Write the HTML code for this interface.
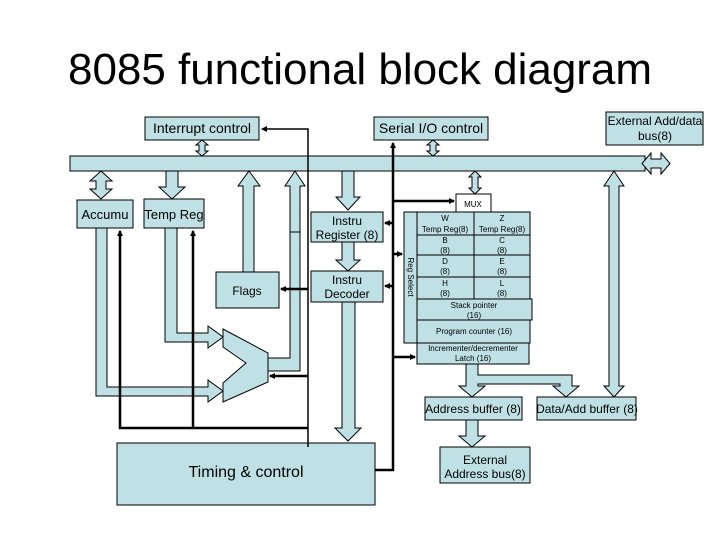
<!DOCTYPE html>
<html><head><meta charset="utf-8"><style>
html,body{margin:0;padding:0;background:#fff;}
svg{display:block;}
text{font-family:"Liberation Sans",sans-serif;fill:#000;}
</style></head><body>
<svg width="720" height="540" viewBox="0 0 720 540" xmlns="http://www.w3.org/2000/svg">
<defs>
<marker id="ah" markerWidth="6" markerHeight="6" refX="5" refY="3" orient="auto" markerUnits="userSpaceOnUse"><path d="M0,0 L6,3 L0,6 z" fill="#000"/></marker>
</defs>
<text x="360" y="84" font-size="44" text-anchor="middle" textLength="584">8085 functional block diagram</text>
<g fill="#bfe1e5" stroke="#000" stroke-width="1">
<rect x="70" y="156" width="575" height="15"/>
<polygon points="642,163.5 651,153 651,159 661,159 661,153 670,163.5 661,174 661,168 651,168 651,174"/>
<rect x="145" y="117" width="114" height="23"/>
<rect x="374" y="117" width="114" height="23"/>
<rect x="606" y="112" width="97" height="33"/>
<polygon points="202,140 208,145 205,145 205,151 208,151 202,156 196,151 199,151 199,145 196,145"/>
<polygon points="433,140 439,145 436,145 436,151 439,151 433,156 427,151 430,151 430,145 427,145"/>
<polygon points="475,171 481,177 478,177 478,188 481,188 475,194 469,188 472,188 472,177 469,177"/>
<rect x="77" y="200" width="56" height="28"/>
<rect x="144" y="199" width="60" height="29"/>
<polygon points="101,171 112,181 106,181 106,189 112,189 101,199 90,189 96,189 96,181 90,181"/>
<polygon points="166,171 178,171 178,187 185,187 172,199 159,187 166,187"/>
<polygon points="249,171 260,186 254,186 254,272 243,272 243,186 238,186"/>
<polygon points="268,358 290,358 290,186 285,186 295,171 305,186 300,186 300,371 268,371"/>
<line x1="290" y1="232" x2="300" y2="232"/>
<polygon points="96,228 107,228 107,387 208,387 208,380 223,391 208,402 208,396 96,396"/>
<polygon points="165,228 177,228 177,333 208,333 208,326 223,337 208,348 208,342 165,342"/>
<polygon points="223,329 268,353 268,382 223,402 223,383 246,363 223,347"/>
<rect x="216" y="272" width="63" height="36"/>
<polygon points="342,171 354,171 354,197 360,197 348,210 336,197 342,197"/>
<rect x="311" y="212" width="72" height="30"/>
<polygon points="342,242 354,242 354,260 360,260 348,271 336,260 342,260"/>
<rect x="311" y="271" width="72" height="31"/>
<polygon points="342,302 355,302 355,428 361,428 348,441 335,428 342,428"/>
<rect x="117" y="443" width="258" height="62"/>
<rect x="456" y="194" width="35" height="18" fill="#fff"/>
<rect x="404" y="212" width="13" height="131"/>
<rect x="417" y="212" width="113" height="87"/>
<line x1="474" y1="212" x2="474" y2="299"/>
<line x1="417" y1="235" x2="530" y2="235"/>
<line x1="417" y1="255" x2="530" y2="255"/>
<line x1="417" y1="277" x2="530" y2="277"/>
<rect x="417" y="299" width="115" height="21"/>
<rect x="417" y="320" width="113" height="23"/>
<rect x="417" y="343" width="112" height="21"/>
<polygon points="466,364 478,364 478,375 572,375 572,386 579,386 566,397 553,386 560,386 560,384 478,384 478,386 485,386 472,397 459,386 466,386"/>
<polygon points="614,171 624,186 619,186 619,386 624,386 614,397 604,386 609,386 609,186 604,186"/>
<rect x="425" y="397" width="97" height="23"/>
<rect x="537" y="397" width="99" height="23"/>
<polygon points="466,420 478,420 478,436 485,436 472,447 459,436 466,436"/>
<rect x="440" y="447" width="90" height="36"/>
</g>
<g fill="none" stroke="#000" stroke-width="2.5">
<polyline points="308,447 308,129 262,129" stroke-width="1.5" marker-end="url(#ah)"/>
<line x1="308" y1="289" x2="281" y2="289" marker-end="url(#ah)"/>
<line x1="308" y1="376" x2="270" y2="376" marker-end="url(#ah)"/>
<polyline points="308,428 120,428 120,231" marker-end="url(#ah)"/>
<line x1="193" y1="428" x2="193" y2="231" marker-end="url(#ah)"/>
<polyline points="375,470 393,470 393,143" marker-end="url(#ah)"/>
<line x1="393" y1="201" x2="454" y2="201" marker-end="url(#ah)"/>
<line x1="393" y1="223" x2="385" y2="223" marker-end="url(#ah)"/>
<line x1="393" y1="254" x2="402" y2="254" marker-end="url(#ah)"/>
<line x1="393" y1="286" x2="385" y2="286" marker-end="url(#ah)"/>
<line x1="393" y1="357" x2="415" y2="357" marker-end="url(#ah)"/>
</g>
<g font-size="14">
<text x="202" y="133" text-anchor="middle">Interrupt control</text>
<text x="431" y="133" text-anchor="middle">Serial I/O control</text>
<text x="105" y="219" text-anchor="middle" font-size="13">Accumu</text>
<text x="174" y="219" text-anchor="middle" font-size="13">Temp Reg</text>
</g>
<g font-size="12" text-anchor="middle">
<text x="655" y="125">External Add/data</text>
<text x="655" y="140">bus(8)</text>
<text x="347" y="225">Instru</text>
<text x="347" y="239">Register (8)</text>
<text x="347" y="284">Instru</text>
<text x="347" y="298">Decoder</text>
<text x="247" y="295">Flags</text>
<text x="473" y="413">Address buffer (8)</text>
<text x="587" y="413">Data/Add buffer (8)</text>
<text x="485" y="464">External</text>
<text x="485" y="478">Address bus(8)</text>
</g>
<text x="246" y="477" font-size="16" text-anchor="middle">Timing &amp; control</text>
<g font-size="8" text-anchor="middle">
<text x="473" y="207">MUX</text>
<text x="445" y="221">W</text><text x="502" y="221">Z</text>
<text x="445" y="232">Temp Reg(8)</text><text x="502" y="232">Temp Reg(8)</text>
<text x="445" y="243">B</text><text x="502" y="243">C</text>
<text x="445" y="253">(8)</text><text x="502" y="253">(8)</text>
<text x="445" y="264">D</text><text x="502" y="264">E</text>
<text x="445" y="274">(8)</text><text x="502" y="274">(8)</text>
<text x="445" y="286">H</text><text x="502" y="286">L</text>
<text x="445" y="296">(8)</text><text x="502" y="296">(8)</text>
<text x="474" y="308">Stack pointer</text>
<text x="474" y="318">(16)</text>
<text x="474" y="334">Program counter (16)</text>
<text x="473" y="351">Incrementer/decrementer</text>
<text x="473" y="361">Latch (16)</text>
<text x="0" y="0" transform="translate(408,277) rotate(90)">Reg Select</text>
</g>
</svg>
</body></html>
